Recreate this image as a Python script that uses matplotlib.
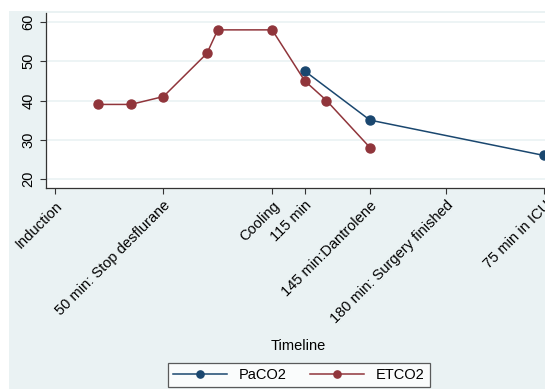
import matplotlib.pyplot as plt
from matplotlib.patches import Rectangle

plt.rcParams['font.family'] = ['Liberation Sans', 'DejaVu Sans']

tick_pos = [0, 50, 100, 115, 145, 180, 225]
tick_labels = ["Induction", "50 min: Stop desflurane", "Cooling", "115 min",
               "145 min:Dantrolene", "180 min: Surgery finished", "75 min in ICU"]

paco2_x = [115, 145, 225]
paco2_y = [47.5, 35, 26]

etco2_x = [20, 35, 50, 70, 75, 100, 115, 125, 145]
etco2_y = [39, 39, 41, 52, 58, 58, 45, 40, 28]

navy = "#1a476f"
maroon = "#90353b"
bg = "#eaf2f3"

fig = plt.figure(figsize=(5.45, 3.89), dpi=100, facecolor="white")
fig.patches.append(Rectangle((9 / 545, 0), 1, 1 - 11 / 389, transform=fig.transFigure,
                             facecolor=bg, edgecolor="none", zorder=-10))

ax = fig.add_axes([46 / 545, 1 - 188 / 389, 1 - 46 / 545 + 0.01, (188 - 13) / 389])
ax.set_facecolor("white")
ax.plot(paco2_x, paco2_y, color=navy, marker="o", ms=6.5, lw=1.1, label="PaCO2", clip_on=False)
ax.plot(etco2_x, etco2_y, color=maroon, marker="o", ms=6.5, lw=1.1, label="ETCO2")

ax.set_xlim(-4, 228)
ax.set_ylim(17.7, 62.3)
ax.set_yticks([20, 30, 40, 50, 60])
ax.grid(axis="y", color=bg, lw=1.2)
ax.set_axisbelow(True)
for s in ["top", "right"]:
    ax.spines[s].set_visible(False)
for s in ["left", "bottom"]:
    ax.spines[s].set_color("#333333")
    ax.spines[s].set_linewidth(0.9)
ax.tick_params(axis="y", labelsize=10.5, length=4, colors="#333333", labelcolor="black")
for lab in ax.get_yticklabels():
    lab.set_rotation(90)
    lab.set_va("center")
ax.set_xticks(tick_pos)
ax.set_xticklabels(tick_labels, rotation=45, ha="right", rotation_mode="anchor", fontsize=10.5)
ax.tick_params(axis="x", length=4, colors="#333333", labelcolor="black")

fig.text(298 / 545, 1 - 346 / 389, "Timeline", ha="center", va="center", fontsize=10.5)
leg = fig.legend(loc="center", bbox_to_anchor=(299 / 545, 1 - 375 / 389), ncol=2,
                 fontsize=10.5, frameon=True, fancybox=False, edgecolor="#333333",
                 handlelength=3.7, columnspacing=1.6, borderpad=0.35, markerscale=0.8)
leg.get_frame().set_linewidth(0.9)

fig.savefig("out.png", dpi=100, facecolor=fig.get_facecolor())
